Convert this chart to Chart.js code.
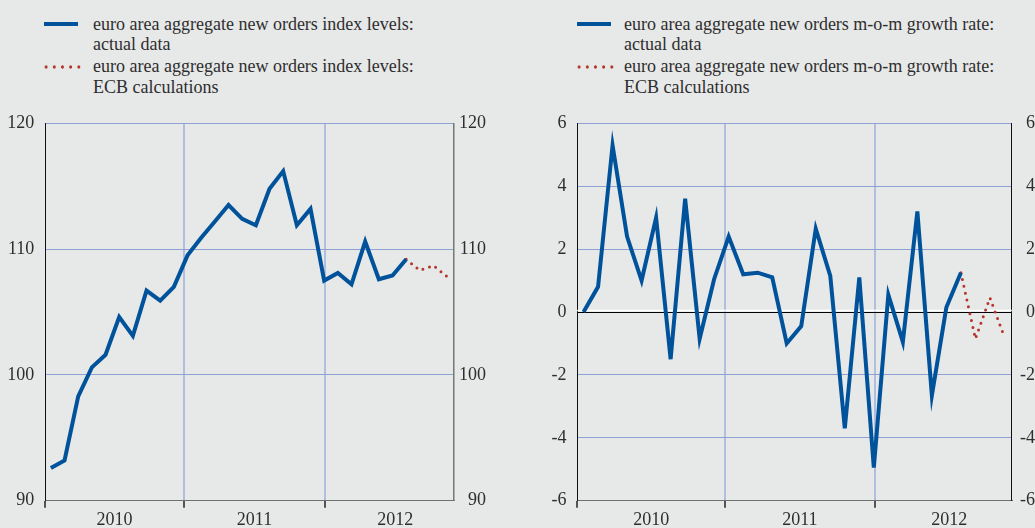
<!DOCTYPE html>
<html lang="en">
<head>
<meta charset="UTF-8">
<title>Euro area new orders</title>
<script src="https://cdn.jsdelivr.net/npm/chart.js@4.4.0/dist/chart.umd.min.js"></script>
<style>
    body { margin: 0; width: 1035px; height: 528px; overflow: hidden; position: relative;
           background: #e7e8e8; font-family: "Liberation Serif", serif; color: #2e2e2e; }
    .legend { position: absolute; top: 13.6px; font-size: 18px; line-height: 20.7px; white-space: nowrap; }
    .item { position: relative; }
    .item + .item { margin-top: 1.3px; }
    .solid { position: absolute; left: 0; top: 8.2px; width: 34px; height: 4.5px; background: #00529b; }
    .dots { position: absolute; left: -2.4px; top: 6.3px; width: 41px; height: 8.2px;
            background: radial-gradient(circle, #b5342b 1.4px, transparent 1.9px) 0 0 / 8.2px 8.2px repeat-x; }
    .box { position: absolute; top: 0; height: 528px; }
</style>
</head>
<body>

<div class="legend" id="legendLeft" style="left:44px"></div>
<div class="legend" id="legendRight" style="left:577px"></div>

<div class="box" style="left:0;width:486px"><canvas id="levelsChart" width="486" height="528"></canvas></div>
<div class="box" style="left:520px;width:515px"><canvas id="growthChart" width="515" height="528"></canvas></div>

<script>
// monthly observations, Jan 2010 onwards
var levelsActual = [92.6, 93.2, 98.3, 100.6, 101.6, 104.6, 103.1, 106.7, 105.9, 107.0,
                    109.5, 110.9, 112.2, 113.5, 112.4, 111.9, 114.8, 116.2, 111.9, 113.2,
                    107.5, 108.1, 107.2, 110.6, 107.6, 107.9, 109.2];
var levelsEcb = [109.2, 108.3, 108.7, 107.8];   // continues from the last actual month

var growthActual = [0.0, 0.8, 5.3, 2.4, 1.0, 3.0, -1.5, 3.6, -0.85, 1.05,
                    2.4, 1.2, 1.25, 1.1, -1.0, -0.45, 2.65, 1.15, -3.7, 1.1,
                    -4.95, 0.55, -0.95, 3.2, -2.65, 0.15, 1.25];
var growthEcb = [1.25, -0.85, 0.45, -0.8];

var years = ['2010', '2011', '2012'];

var legendLeft = ['euro area aggregate new orders index levels:<br>actual data',
                  'euro area aggregate new orders index levels:<br>ECB calculations'];
var legendRight = ['euro area aggregate new orders m-o-m growth rate:<br>actual data',
                   'euro area aggregate new orders m-o-m growth rate:<br>ECB calculations'];

var BLUE = '#00529b';
var RED = '#b5342b';
var GRID_H = 'rgb(143,160,212)';
var GRID_V = 'rgb(178,190,222)';
var TEXT = '#2e2e2e';

Chart.defaults.font.family = '"Liberation Serif", serif';
Chart.defaults.font.size = 18;
Chart.defaults.color = TEXT;

function fillLegend(id, labels, indent) {
    var el = document.getElementById(id);
    var html = '';
    for (var i = 0; i < labels.length; i++) {
        html += '<div class="item" style="padding-left:' + indent + 'px">' +
                '<span class="' + (i == 0 ? 'solid' : 'dots') + '"></span>' + labels[i] + '</div>';
    }
    el.innerHTML = html;
}
fillLegend('legendLeft', legendLeft, 49);
fillLegend('legendRight', legendRight, 47);

// x axis: year boundaries and year mid points (index units = months)
var xMin = -0.43, xMax = 29.5;
var yearEdges = [xMin, 9.75, 20.05];
var yearMids = [4.66, 14.9, 25.2];
var xTicks = [];
for (var i = 0; i < years.length; i++) {
    xTicks.push({value: yearEdges[i], label: '', edge: true, first: i == 0});
    xTicks.push({value: yearMids[i], label: years[i], edge: false});
}

function toPoints(arr, start) {
    return arr.map(function (v, i) { return {x: start + i, y: v}; });
}

// white highlight above the zero line
var zeroGlow = {
    id: 'zeroGlow',
    beforeDatasetsDraw: function (chart, args, opts) {
        if (!opts.on) return;
        var ctx = chart.ctx, a = chart.chartArea;
        var y = chart.scales.y.getPixelForValue(0);
        ctx.save();
        ctx.strokeStyle = '#ffffff';
        ctx.lineWidth = 1.5;
        ctx.beginPath();
        ctx.moveTo(a.left, y - 1.5);
        ctx.lineTo(a.right, y - 1.5);
        ctx.stroke();
        ctx.restore();
    }
};

function makeChart(id, actual, ecb, c) {
    return new Chart(document.getElementById(id), {
        type: 'line',
        data: {
            datasets: [{
                data: toPoints(actual, 0),
                borderColor: BLUE,
                borderWidth: 4,
                pointRadius: 0,
                tension: 0
            }, {
                data: toPoints(ecb, actual.length - 1),
                borderColor: RED,
                borderWidth: 3,
                borderDash: [0, 7],
                borderCapStyle: 'round',
                pointRadius: 0,
                tension: 0
            }]
        },
        options: {
            responsive: false,
            animation: false,
            layout: {padding: {top: 123.3, left: 0, right: 0, bottom: 0}},
            plugins: {legend: {display: false}, tooltip: {enabled: false}, zeroGlow: {on: c.zero}},
            scales: {
                x: {
                    type: 'linear',
                    min: xMin, max: xMax,
                    afterBuildTicks: function (s) { s.ticks = xTicks.map(function (t) { return {value: t.value}; }); },
                    afterFit: function (s) { s.height = 27.3; },
                    border: {color: '#6f6f6f', width: 1},
                    grid: {
                        drawTicks: true,
                        tickLength: 7,
                        color: function (ctx) {
                            var t = xTicks[ctx.index];
                            return t && t.edge && !t.first ? GRID_V : 'rgba(0,0,0,0)';
                        },
                        lineWidth: 2,
                        tickColor: function (ctx) {
                            var t = xTicks[ctx.index];
                            return t && t.edge ? '#222' : 'rgba(0,0,0,0)';
                        },
                        tickWidth: 1.5
                    },
                    ticks: {
                        autoSkip: false, maxRotation: 0, padding: 2, color: TEXT,
                        callback: function (v, i) { return xTicks[i] ? xTicks[i].label : ''; }
                    }
                },
                y: {
                    position: 'left',
                    min: c.min, max: c.max,
                    afterFit: function (s) { s.width = c.leftW; },
                    border: {color: '#111', width: 1},
                    grid: {
                        drawTicks: false,
                        color: function (ctx) {
                            if (ctx.tick.value == 0 && c.zero) return '#000';
                            if (ctx.tick.value == c.min) return 'rgba(0,0,0,0)';
                            return GRID_H;
                        }
                    },
                    ticks: {stepSize: c.step, padding: 10.7, color: TEXT}
                },
                y2: {
                    position: 'right',
                    min: c.min, max: c.max,
                    afterFit: function (s) { s.width = c.rightW; },
                    border: {color: c.rightBorder, width: c.zero ? 1 : 1.5},
                    grid: {drawOnChartArea: false, drawTicks: false},
                    ticks: {stepSize: c.step, padding: 5, crossAlign: 'far', color: TEXT}
                }
            }
        },
        plugins: [zeroGlow]
    });
}

makeChart('levelsChart', levelsActual, levelsEcb,
    {min: 90, max: 120, step: 10, leftW: 45, rightW: 32, rightBorder: '#777', zero: false});
makeChart('growthChart', growthActual, growthEcb,
    {min: -6, max: 6, step: 2, leftW: 57.3, rightW: 23.3, rightBorder: '#111', zero: true});
</script>
</body>
</html>
